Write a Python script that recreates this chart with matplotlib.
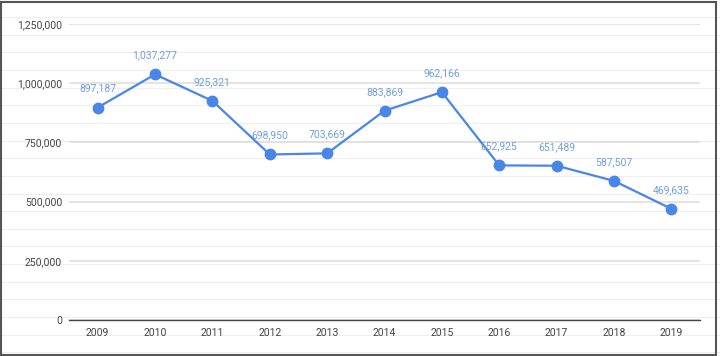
import matplotlib.pyplot as plt
import numpy as np
from matplotlib.lines import Line2D
from matplotlib.ticker import FuncFormatter, MultipleLocator

years = [2009, 2010, 2011, 2012, 2013, 2014, 2015, 2016, 2017, 2018, 2019]
values = [897187, 1037277, 925321, 698950, 703669, 883869, 962166,
          652925, 651489, 587507, 469635]

plt.rcParams['font.family'] = ['Roboto', 'DejaVu Sans']

fig = plt.figure(figsize=(7.2, 3.56), dpi=100)

# faint spreadsheet row lines behind the chart
for yy in np.arange(17, 356, 17.65):
    fig.add_artist(Line2D([0, 1], [1 - yy / 356, 1 - yy / 356], color='#efefef', lw=0.8, zorder=0))

ax = fig.add_axes([69 / 720, 36 / 356, 631 / 720, 296 / 356])
ax.patch.set_alpha(0)

blue = '#4a86e8'
ax.plot(years, values, color=blue, lw=1.6, marker='o', ms=7.5, zorder=3, clip_on=False)
for x, v in zip(years, values):
    ax.annotate(f'{v:,}', (x, v), xytext=(0, 10), textcoords='offset points',
                ha='center', va='bottom', fontsize=7.5, color='#6f9fe0')

ax.set_xlim(2008.5, 2019.5)
ax.set_ylim(0, 1250000)
ax.yaxis.set_major_locator(MultipleLocator(250000))
ax.yaxis.set_major_formatter(FuncFormatter(lambda v, p: f'{int(v):,}'))
ax.set_xticks(years)
ax.grid(axis='y', color='#dcdcdc', lw=1.1)
ax.tick_params(length=0, labelsize=7.5, colors='#444444')
ax.tick_params(axis='y', pad=5)
ax.tick_params(axis='x', pad=6)
for s in ['top', 'right', 'left']:
    ax.spines[s].set_visible(False)
ax.spines['bottom'].set_color('#444444')
ax.spines['bottom'].set_linewidth(1)
ax.set_axisbelow(True)

# outer border
fig.add_artist(plt.Rectangle((0.002, 0.004), 0.993, 0.99, transform=fig.transFigure,
                             fill=False, edgecolor='#555555', lw=1.5))

fig.savefig('out.png', dpi=100)
